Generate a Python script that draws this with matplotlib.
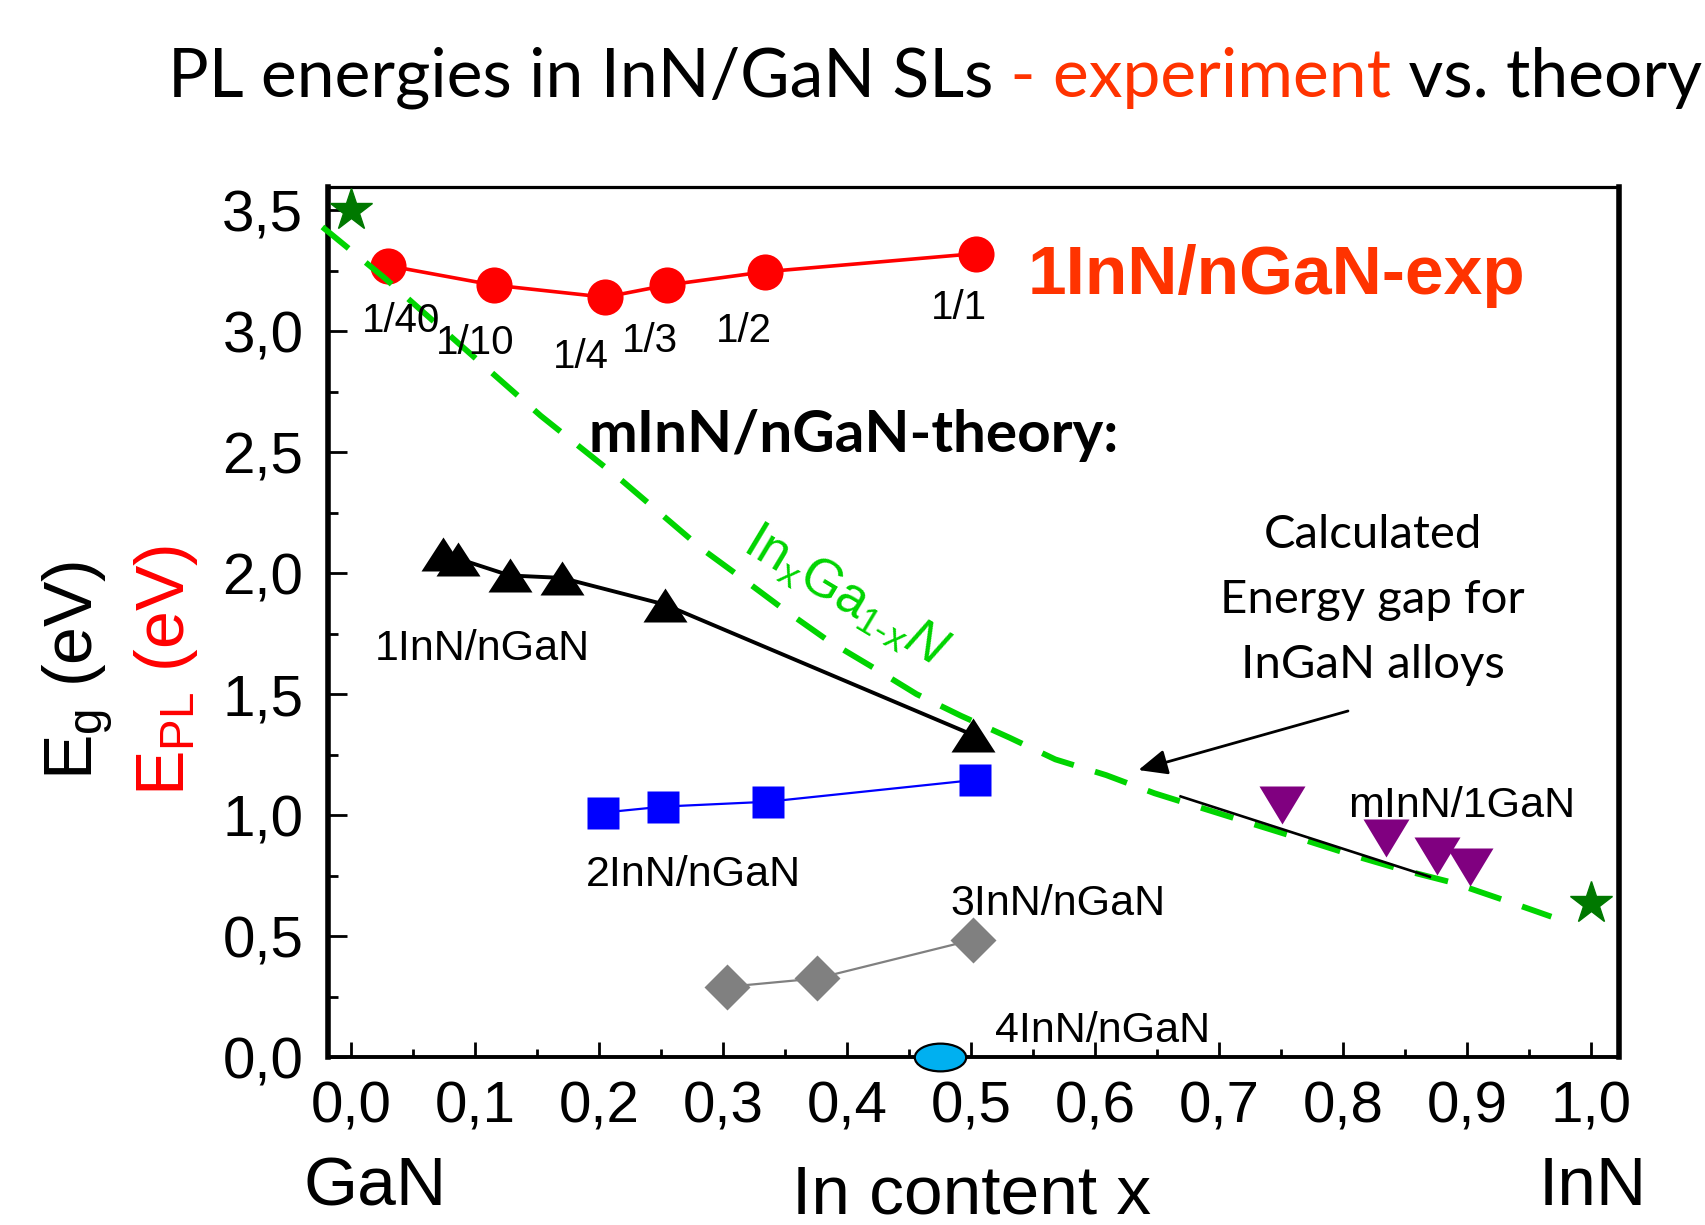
import matplotlib
matplotlib.use("Agg")
import matplotlib.pyplot as plt
from matplotlib.markers import MarkerStyle
from matplotlib.patches import ArrowStyle
from matplotlib.ticker import MultipleLocator
from matplotlib.transforms import Affine2D

plt.rcParams["mathtext.fontset"] = "custom"
plt.rcParams["mathtext.rm"] = "Liberation Sans"
plt.rcParams["mathtext.it"] = "Liberation Sans:italic"
plt.rcParams["mathtext.bf"] = "Liberation Sans:bold"

ARIAL = "Liberation Sans"
CALIBRI = "Lato"

# 1InN/nGaN superlattices, measured PL peak energies
exp_x = [0.030, 0.115, 0.205, 0.255, 0.334, 0.504]
exp_e = [3.27, 3.19, 3.14, 3.19, 3.245, 3.32]
exp_ratio = ["1/40", "1/10", "1/4", "1/3", "1/2", "1/1"]

# calculated gaps, mInN/nGaN
th1_x = [0.074, 0.086, 0.128, 0.170, 0.253, 0.502]
th1_e = [2.08, 2.06, 1.99, 1.98, 1.87, 1.33]
th2_x = [0.203, 0.252, 0.336, 0.503]
th2_e = [1.01, 1.035, 1.055, 1.145]
th3_x = [0.303, 0.376, 0.502]
th3_e = [0.29, 0.325, 0.485]
th4_x = [0.475]
th4_e = [0.0]
thm_x = [0.751, 0.835, 0.876, 0.902]
thm_e = [1.04, 0.905, 0.83, 0.785]
thm_line_x = [0.669, 0.870]
thm_line_e = [1.077, 0.745]

# InGaN alloy gap
alloy_x = [-0.023, 0.027, 0.091, 0.153, 0.219, 0.251, 0.283, 0.315, 0.349,
           0.385, 0.421, 0.456, 0.492, 0.531, 0.568, 0.609, 0.648, 0.723,
           0.767, 0.807, 0.847, 0.889, 0.929, 0.968]
alloy_e = [3.43, 3.22, 2.93, 2.65, 2.38, 2.24, 2.10, 1.98, 1.85,
           1.72, 1.61, 1.50, 1.41, 1.32, 1.23, 1.165, 1.09, 0.97,
           0.90, 0.835, 0.775, 0.72, 0.65, 0.58]
binary_x = [0.0, 1.0]
binary_e = [3.5, 0.636]

x_ticks = [0.0, 0.1, 0.2, 0.3, 0.4, 0.5, 0.6, 0.7, 0.8, 0.9, 1.0]
x_tick_labels = ["0,0", "0,1", "0,2", "0,3", "0,4", "0,5", "0,6", "0,7",
                 "0,8", "0,9", "1,0"]
y_ticks = [0.0, 0.5, 1.0, 1.5, 2.0, 2.5, 3.0, 3.5]
y_tick_labels = ["0,0", "0,5", "1,0", "1,5", "2,0", "2,5", "3,0", "3,5"]

RED = "#ff0000"
ORANGE = "#ff3300"
LIME = "#00d400"
STAR = "#007800"

fig = plt.figure(figsize=(17.05, 12.25), dpi=100)
ax = fig.add_axes((0.1926, 0.1371, 0.7570, 0.7102))
ax.set_xlim(-0.0182, 1.0226)
ax.set_ylim(0, 3.595)

# alloy curve and binary end points
ax.plot(alloy_x, alloy_e, color=LIME, lw=4.2, dashes=(5.8, 3.8),
        zorder=3, clip_on=False)
ax.plot(binary_x, binary_e, ls="none", marker="*", ms=32, color=STAR,
        zorder=6, clip_on=False)

# experiment
ax.plot(exp_x, exp_e, color=RED, lw=2.6, marker="o", ms=26, mec="none",
        zorder=2)
ratio_offsets = [(9, -40), (-13.5, -42), (-17.5, -43), (-12.7, -40.3),
                 (-15, -42.7), (-12.2, -39.4)]
for x, e, lab, off in zip(exp_x, exp_e, exp_ratio, ratio_offsets):
    ax.annotate(lab, (x, e), xytext=off, textcoords="offset points",
                ha="center", va="center", fontsize=29, family=ARIAL,
                zorder=4)

# theory series
tri_up = MarkerStyle("^", transform=Affine2D().scale(1.0, 0.8))
tri_dn = MarkerStyle("v", transform=Affine2D().scale(1.0, 0.83))
oval = MarkerStyle("o", transform=Affine2D().scale(1.0, 0.54))

ax.plot(th1_x, th1_e, color="black", lw=2.8, marker=tri_up, ms=31,
        mec="none", zorder=4)
ax.plot(th2_x, th2_e, color="#0000ff", lw=1.6, marker="s", ms=23,
        mec="none", zorder=4)
ax.plot(th3_x, th3_e, color="#808080", lw=1.6, marker="D", ms=23,
        mec="none", zorder=4)
ax.plot(th4_x, th4_e, ls="none", marker=oval, ms=37, mfc="#00b0f0",
        mec="black", mew=1.6, zorder=6, clip_on=False)
ax.plot(thm_x, thm_e, ls="none", marker=tri_dn, ms=33, color="#800080",
        mec="none", zorder=4)
ax.plot(thm_line_x, thm_line_e, color="black", lw=1.9, zorder=5)

# axes styling
for side, lw in (("left", 4), ("right", 4), ("top", 2.3), ("bottom", 2.8)):
    ax.spines[side].set_linewidth(lw)
ax.set_xticks(x_ticks)
ax.set_xticklabels(x_tick_labels)
ax.set_yticks(y_ticks)
ax.set_yticklabels(y_tick_labels)
ax.xaxis.set_minor_locator(MultipleLocator(0.05))
ax.yaxis.set_minor_locator(MultipleLocator(0.25))
ax.tick_params(axis="both", which="both", direction="in", top=False,
               right=False, width=2)
ax.tick_params(axis="y", which="major", length=13.5, pad=18, labelsize=42)
ax.tick_params(axis="y", which="minor", length=7)
ax.tick_params(axis="x", which="major", length=11, pad=17, labelsize=42)
ax.tick_params(axis="x", which="minor", length=5.5)
for lab in ax.get_xticklabels() + ax.get_yticklabels():
    lab.set_family(ARIAL)

# annotations inside the frame
ax.text(0.5455, 3.153, "1InN/nGaN-exp", color=ORANGE, fontsize=50,
        fontweight="bold", family=ARIAL, ha="left", va="baseline")
ax.text(0.1915, 2.50, "mInN/nGaN-theory:", fontsize=42, fontweight="bold",
        family=CALIBRI, ha="left", va="baseline")
ax.text(0.3926, 1.853, "In$_\\mathregular{x}$Ga$_\\mathregular{1\u2010x}$$\\mathit{N}$",
        color=LIME, fontsize=38, family=ARIAL, rotation=-31,
        rotation_mode="anchor", ha="center", va="baseline")
ax.text(0.824, 1.889, "Calculated\nEnergy gap for\nInGaN alloys",
        fontsize=34, family=CALIBRI, ha="center", va="center",
        linespacing=1.68, multialignment="center")
ax.annotate("", xy=(0.635, 1.186), xytext=(0.804, 1.430),
            arrowprops=dict(arrowstyle=ArrowStyle("-|>", head_length=0.8,
                                                  head_width=0.35),
                            mutation_scale=22, lw=2, color="black",
                            shrinkA=0, shrinkB=0))

series_labels = [
    ("1InN/nGaN", 0.106, 1.64),
    ("2InN/nGaN", 0.276, 0.708),
    ("3InN/nGaN", 0.570, 0.587),
    ("4InN/nGaN", 0.606, 0.062),
    ("mInN/1GaN", 0.896, 0.992),
]
for text, x, y in series_labels:
    ax.text(x, y, text, fontsize=31, family=ARIAL, ha="center",
            va="baseline")

# axis titles
fig.text(0.054, 0.453, "E$_\\mathregular{g}$ (eV)", rotation=90,
         rotation_mode="anchor", ha="center", va="baseline", fontsize=49,
         family=ARIAL, color="black")
fig.text(0.108, 0.453, "E$_\\mathregular{PL}$ (eV)", rotation=90,
         rotation_mode="anchor", ha="center", va="baseline", fontsize=49,
         family=ARIAL, color=RED)
fig.text(0.220, 0.0163, "GaN", fontsize=50, family=ARIAL, ha="center",
         va="baseline")
fig.text(0.934, 0.0163, "InN", fontsize=50, family=ARIAL, ha="center",
         va="baseline")
fig.text(0.5698, 0.009, "In content x", fontsize=50, family=ARIAL,
         ha="center", va="baseline")

# title in three colour runs
t1 = fig.text(0.0985, 0.921, "PL energies in InN/GaN SLs", fontsize=48.8,
              family=CALIBRI, va="baseline")
t2 = ax.annotate(" - experiment", xy=(1, 0), xycoords=t1, va="bottom",
                 fontsize=48.8, family=CALIBRI, color=ORANGE)
ax.annotate(" vs. theory", xy=(1, 0), xycoords=t2, va="bottom",
            fontsize=48.8, family=CALIBRI, color="black")

fig.savefig("out.png", dpi=100)
